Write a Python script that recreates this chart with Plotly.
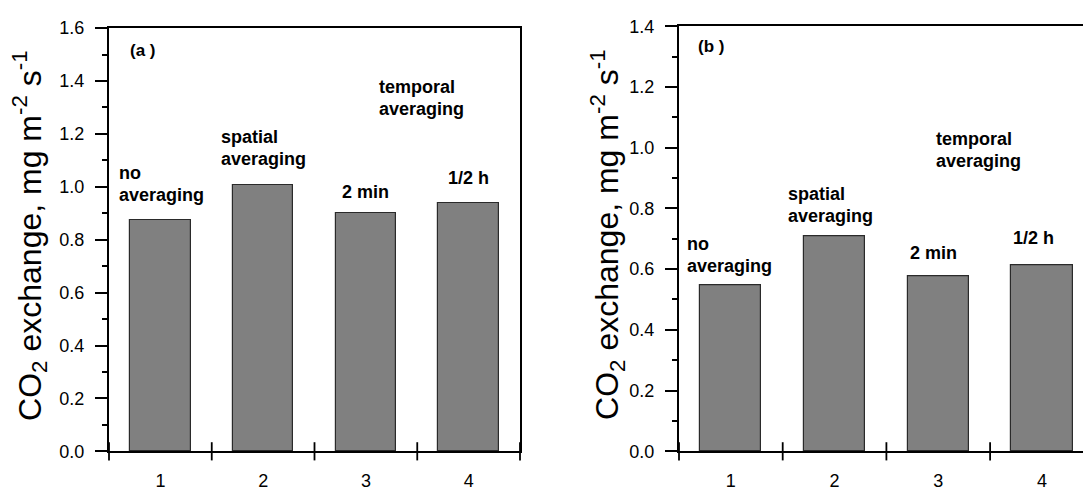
import plotly.graph_objects as go

# ---- data ----
categories = [1, 2, 3, 4]
values_a = [0.876, 1.008, 0.900, 0.939]
values_b = [0.548, 0.708, 0.577, 0.614]
tick_labels = ["1", "2", "3", "4"]
labels_a = [["no", "averaging"], ["spatial", "averaging"], ["2 min"], ["1/2 h"], ["temporal", "averaging"]]
labels_b = [["no", "averaging"], ["spatial", "averaging"], ["2 min"], ["1/2 h"], ["temporal", "averaging"]]
panel_tags = ["(a )", "(b )"]
y_title = "CO<sub>2</sub> exchange, mg m<sup>-2</sup> s<sup>-1</sup>"

W, H = 1083, 491
FONT = "Liberation Sans, Arial, sans-serif"
bar_fill = "#808080"
bar_line = "#2a2a2a"

boundaries = [c - 0.5 for c in categories] + [categories[-1] + 0.5]

fig = go.Figure()

for vals, xa, ya in [(values_a, "x", "y"), (values_b, "x2", "y2")]:
    fig.add_trace(go.Bar(
        x=categories, y=vals, xaxis=xa, yaxis=ya, width=0.59,
        marker=dict(color=bar_fill, line=dict(color=bar_line, width=1.2)),
        showlegend=False, hoverinfo="x+y"))
    # crossing tick marks at category boundaries
    fig.add_trace(go.Scatter(
        x=boundaries, y=[0] * len(boundaries), xaxis=xa, yaxis=ya,
        mode="markers", cliponaxis=False, showlegend=False, hoverinfo="skip",
        marker=dict(symbol="line-ns", size=13, line=dict(color="black", width=1.8))))

# domains in pixels
ax_a = dict(x0=109, x1=520, top=19, bottom=463)
ax_b = dict(x0=679, top=17, bottom=463)
cat_w_b = 103.7
xb_max = 0.5 + (W - ax_b["x0"]) / cat_w_b

def ydom(d):
    return [1 - d["bottom"] / H, 1 - d["top"] / H]

common_y = dict(
    showline=True, linecolor="black", linewidth=2, ticks="outside", ticklen=12,
    tickwidth=1.8, tickcolor="black", dtick=0.2, tickformat=".1f",
    tickfont=dict(family=FONT, size=18, color="black"), showgrid=False, zeroline=False,
    minor=dict(ticks="outside", ticklen=5, tickwidth=1.8, tickcolor="black", dtick=0.1),
    ticklabelstandoff=7,
)
common_x = dict(
    showline=True, linecolor="black", linewidth=2, ticks="", tickvals=categories,
    ticktext=tick_labels, tickfont=dict(family=FONT, size=18, color="black"),
    showgrid=False, zeroline=False, mirror=True, ticklabelstandoff=12,
)

fig.update_layout(
    width=W, height=H, margin=dict(l=0, r=0, t=0, b=0),
    paper_bgcolor="white", plot_bgcolor="white", bargap=0,
    xaxis=dict(domain=[ax_a["x0"] / W, ax_a["x1"] / W], range=[0.5, 4.5], anchor="y", **common_x),
    yaxis=dict(domain=ydom(ax_a), range=[0, 1.6], anchor="x", mirror=True, **common_y),
    xaxis2=dict(domain=[ax_b["x0"] / W, 1.0], range=[0.5, xb_max], anchor="y2", **common_x),
    yaxis2=dict(domain=ydom(ax_b), range=[0, 1.4], anchor="x2", mirror=False, **common_y),
)

LINE_GAP = 22  # px between lines of a label

def add_lbl(lines, x, y, xr, yr, xanchor="left", size=18):
    if isinstance(lines, str):
        lines = [lines]
    n = len(lines)
    for i, ln in enumerate(lines):
        shift = ((n - 1) / 2 - i) * LINE_GAP
        fig.add_annotation(text=ln, x=x, y=y, xref=xr, yref=yr, showarrow=False,
                           xanchor=xanchor, yanchor="middle", yshift=shift,
                           font=dict(family=FONT, size=size, color="black", weight="bold"))

# panel a labels
add_lbl(labels_a[0], 0.58, 1.009, "x", "y")
add_lbl(labels_a[1], 1.57, 1.146, "x", "y")
add_lbl(labels_a[2], 3.0, 0.981, "x", "y", "center")
add_lbl(labels_a[3], 4.0, 1.032, "x", "y", "center")
add_lbl(labels_a[4], 3.11, 1.334, "x", "y")
add_lbl(panel_tags[0], 0.68, 1.515, "x", "y", size=17)

# panel b labels
add_lbl(labels_b[0], 0.56, 0.645, "x2", "y2")
add_lbl(labels_b[1], 1.53, 0.811, "x2", "y2")
add_lbl(labels_b[2], 2.95, 0.653, "x2", "y2", "center")
add_lbl(labels_b[3], 3.92, 0.702, "x2", "y2", "center")
add_lbl(labels_b[4], 2.96, 0.993, "x2", "y2")
add_lbl(panel_tags[1], 0.66, 1.333, "x2", "y2", size=17)

# y-axis titles
for xc, d in [(30, ax_a), (608, ax_b)]:
    fig.add_annotation(text=y_title, textangle=-90, x=xc / W, y=1 - ((d["top"] + d["bottom"]) / 2 - 4) / H,
                       xref="paper", yref="paper", showarrow=False, xanchor="center", yanchor="middle",
                       font=dict(family=FONT, size=32, color="black"))

fig.write_html("out.html")
